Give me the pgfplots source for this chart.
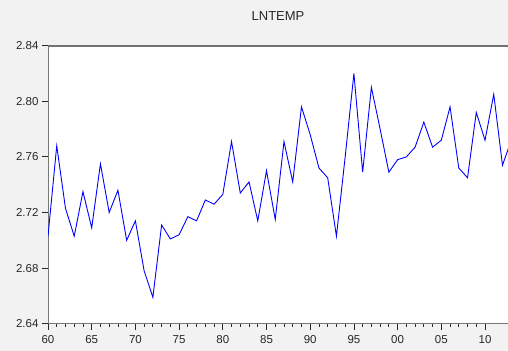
\documentclass[border=0pt]{standalone}
\usepackage{fontspec}
\setmainfont{Liberation Sans}
\usepackage{pgfplots}
\pgfplotsset{compat=1.18}
\definecolor{bgray}{RGB}{242,242,242}
\definecolor{frameg}{RGB}{115,115,115}
\definecolor{axg}{RGB}{120,120,120}
\definecolor{txt}{RGB}{40,40,40}
\begin{document}
\begin{tikzpicture}
\fill[bgray] (0,0) rectangle (508bp,351bp);
\useasboundingbox (0,0) rectangle (508bp,351bp);
\node[font=\fontsize{13bp}{15bp}\selectfont, text=txt] at (278bp,335bp) {LNTEMP};
\begin{axis}[
  at={(48bp,27.3bp)}, anchor=south west,
  scale only axis, width=460bp, height=278bp,
  xmin=1960, xmax=2012.63, ymin=2.64, ymax=2.84,
  axis background/.style={fill=white},
  axis x line*=bottom, axis y line*=left,
  axis line style={draw=axg, line width=1bp},
  xtick={1960,1965,...,2010},
  xticklabels={60,65,70,75,80,85,90,95,00,05,10},
  minor x tick num=4,
  ytick={2.64,2.68,2.72,2.76,2.80,2.84},
  yticklabel style={/pgf/number format/.cd,fixed,fixed zerofill,precision=2,assume math mode=true},
  xticklabel style={/pgf/number format/assume math mode=true, yshift=-2.5bp},
  tick align=outside,
  major tick length=6bp, minor tick length=3.5bp,
  tick style={draw=txt, line width=0.8bp},
  ticklabel style={font=\fontsize{11.5bp}{13bp}\selectfont, text=txt},
  clip=true,
]
\addplot[color=blue, line width=0.9bp, mark=none] coordinates {
(1960,2.703) (1961,2.768) (1962,2.723) (1963,2.703) (1964,2.735)
(1965,2.709) (1966,2.755) (1967,2.720) (1968,2.736) (1969,2.700)
(1970,2.714) (1971,2.678) (1972,2.659) (1973,2.711) (1974,2.701)
(1975,2.704) (1976,2.717) (1977,2.714) (1978,2.729) (1979,2.726)
(1980,2.733) (1981,2.771) (1982,2.734) (1983,2.742) (1984,2.714)
(1985,2.750) (1986,2.715) (1987,2.771) (1988,2.742) (1989,2.796)
(1990,2.776) (1991,2.752) (1992,2.745) (1993,2.703) (1994,2.760)
(1995,2.820) (1996,2.749) (1997,2.810) (1998,2.780) (1999,2.749)
(2000,2.758) (2001,2.760) (2002,2.767) (2003,2.785) (2004,2.767)
(2005,2.772) (2006,2.796) (2007,2.752) (2008,2.745) (2009,2.792)
(2010,2.772) (2011,2.805) (2012,2.754) (2013,2.772)
};
\draw[draw=frameg, line width=2bp] (rel axis cs:0,1) -- (rel axis cs:1,1);
\end{axis}
\end{tikzpicture}
\end{document}
